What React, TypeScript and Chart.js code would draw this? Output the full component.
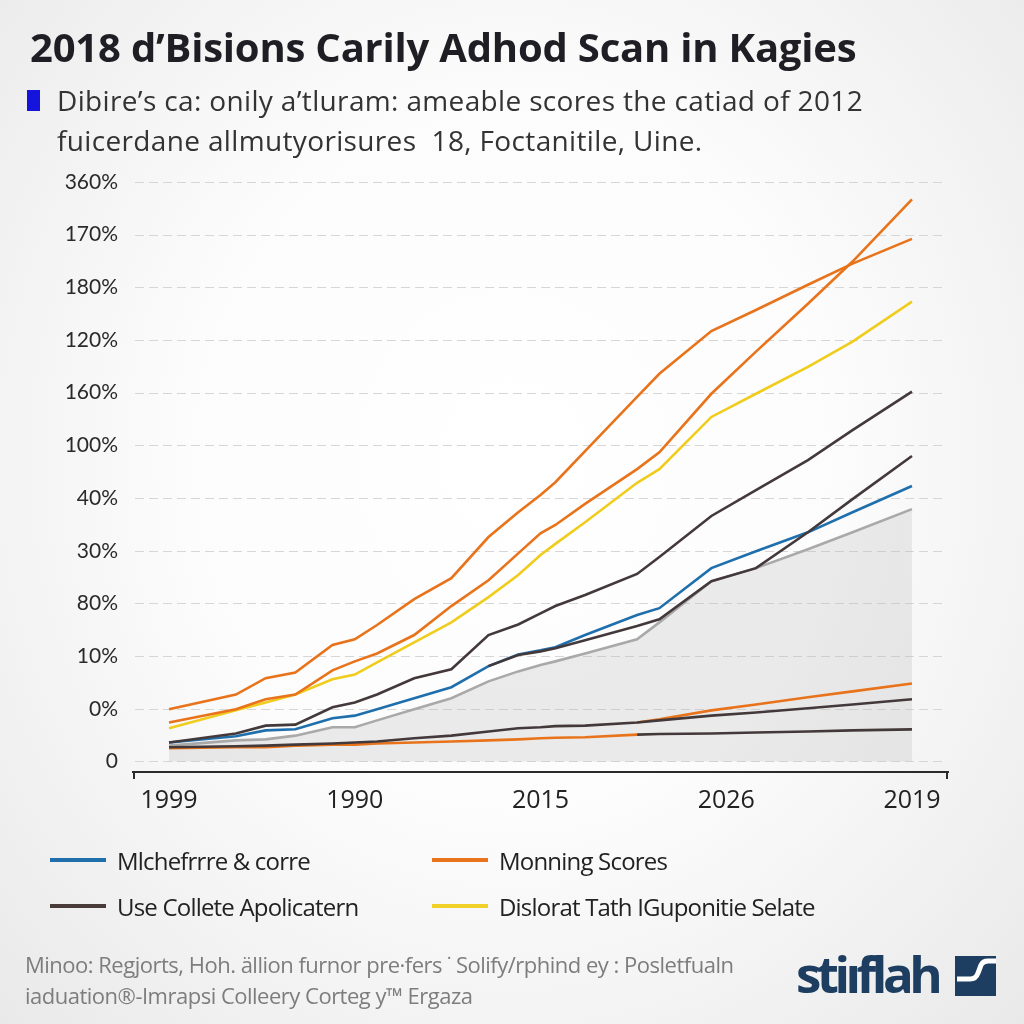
import React, { useEffect, useRef } from "react";
import { Chart, registerables } from "chart.js";

Chart.register(...registerables);

const xPos = [0, 9, 13, 17, 22, 25, 28, 33, 38, 43, 47, 50, 52, 56, 63, 66, 73, 79, 86, 92, 100];
const xTickValues = [0, 25, 50, 75, 100];
const xTickLabels = ["1999", "1990", "2015", "2026", "2019"];
const yTickLabels = ["0", "0%", "10%", "80%", "30%", "40%", "100%", "160%", "120%", "180%", "170%", "360%"];

const orangeA = [0.99, 1.27, 1.58, 1.69, 2.21, 2.32, 2.59, 3.08, 3.48, 4.26, 4.73, 5.06, 5.3, 5.89, 6.92, 7.36, 8.17, 8.57, 9.05, 9.45, 9.92];
const orangeB = [0.74, 0.99, 1.18, 1.27, 1.73, 1.9, 2.05, 2.4, 2.95, 3.44, 3.95, 4.33, 4.49, 4.89, 5.55, 5.87, 6.98, 7.78, 8.69, 9.49, 10.67];
const yellow = [0.63, 0.97, 1.12, 1.27, 1.56, 1.65, 1.88, 2.26, 2.64, 3.12, 3.54, 3.92, 4.13, 4.54, 5.29, 5.55, 6.54, 6.98, 7.49, 7.97, 8.73];
const darkA = [0.36, 0.53, 0.68, 0.7, 1.03, 1.12, 1.27, 1.58, 1.75, 2.4, 2.6, 2.81, 2.95, 3.16, 3.56, 3.88, 4.66, 5.15, 5.72, 6.29, 7.02];
const blue = [0.36, 0.48, 0.59, 0.61, 0.82, 0.87, 0.99, 1.2, 1.41, 1.81, 2.03, 2.11, 2.17, 2.4, 2.78, 2.91, 3.67, 3.99, 4.35, 4.73, 5.23];
const gray = [0.3, 0.4, 0.42, 0.49, 0.65, 0.65, 0.78, 0.99, 1.2, 1.52, 1.71, 1.83, 1.9, 2.05, 2.32, 2.64, 3.42, 3.67, 4.03, 4.35, 4.79];
const darkB = [null, null, null, null, null, null, null, null, null, 1.81, 2.02, 2.09, 2.15, 2.3, 2.57, 2.7, 3.42, 3.67, 4.35, 4.98, 5.8];
const darkC = [0.27, 0.29, 0.3, 0.32, 0.34, 0.36, 0.38, 0.44, 0.49, 0.57, 0.63, 0.65, 0.67, 0.68, 0.74, 0.78, 0.87, 0.93, 1.01, 1.08, 1.18];
const orangeC = [0.25, 0.27, 0.27, 0.3, 0.32, 0.32, 0.34, 0.36, 0.38, 0.4, 0.42, 0.44, 0.45, 0.46, 0.51, null, null, null, null, null, null];
const darkD = [null, null, null, null, null, null, null, null, null, null, null, null, null, null, 0.51, 0.52, 0.53, 0.55, 0.57, 0.59, 0.61];
const orangeD = [null, null, null, null, null, null, null, null, null, null, null, null, null, null, 0.74, 0.8, 0.97, 1.08, 1.22, 1.33, 1.48];

const legendItems = [
  { label: "Mlchefrrre & corre", color: "#1f6fad" },
  { label: "Monning Scores", color: "#e8731a" },
  { label: "Use Collete Apolicatern", color: "#4a3b3b" },
  { label: "Dislorat Tath IGuponitie Selate", color: "#f2d02a" },
];

const ORANGE = "#e8731a";
const YELLOW = "#f0cc1c";
const DARK = "#44393a";
const BLUE = "#1f6fad";
const GRAY = "#a9a9a9";

const pts = (ys: (number | null)[]) => xPos.map((x, i) => ({ x, y: ys[i] }));

const dashedGrid = {
  id: "dashedGrid",
  beforeDatasetsDraw(chart: any) {
    const { ctx, chartArea, scales } = chart;
    const y = scales.y;
    ctx.save();
    ctx.strokeStyle = "#d6d6d6";
    ctx.lineWidth = 1;
    ctx.setLineDash([9, 5]);
    y.ticks.forEach((t: any) => {
      const py = Math.round(y.getPixelForValue(t.value)) + 0.5;
      ctx.beginPath();
      ctx.moveTo(chartArea.left + 2, py);
      ctx.lineTo(chartArea.right - 2, py);
      ctx.stroke();
    });
    ctx.restore();
  },
};

const endTicks = {
  id: "endTicks",
  afterDraw(chart: any) {
    const { ctx, chartArea } = chart;
    ctx.save();
    ctx.strokeStyle = "#2a2a2a";
    ctx.lineWidth = 2;
    ctx.beginPath();
    ctx.moveTo(chartArea.left + 1, chartArea.bottom);
    ctx.lineTo(chartArea.left + 1, chartArea.bottom + 7);
    ctx.moveTo(chartArea.right - 1, chartArea.bottom);
    ctx.lineTo(chartArea.right - 1, chartArea.bottom + 7);
    ctx.stroke();
    ctx.restore();
  },
};

function ChartView() {
  const ref = useRef<HTMLCanvasElement | null>(null);
  useEffect(() => {
    if (!ref.current) return;
    const line = (data: (number | null)[], color: string, extra: any = {}) => ({
      data: pts(data),
      borderColor: color,
      borderWidth: 2.6,
      pointRadius: 0,
      fill: false,
      tension: 0,
      spanGaps: false,
      order: 1,
      ...extra,
    });
    const chart = new Chart(ref.current, {
      type: "line",
      data: {
        datasets: [
          line(orangeA, ORANGE),
          line(orangeB, ORANGE),
          line(yellow, YELLOW),
          line(darkA, DARK),
          line(darkB, DARK),
          line(blue, BLUE),
          line(gray, GRAY, { fill: "origin", backgroundColor: "rgba(185,185,185,0.27)", order: 5 }),
          line(darkC, DARK),
          line(orangeC, ORANGE),
          line(darkD, DARK),
          line(orangeD, ORANGE),
        ] as any,
      },
      options: {
        animation: false,
        responsive: false,
        maintainAspectRatio: false,
        layout: { padding: { left: 0, right: 76, top: 32, bottom: 0 } },
        plugins: { legend: { display: false }, tooltip: { enabled: false } },
        scales: {
          x: {
            type: "linear",
            min: -4.85,
            max: 104.85,
            afterBuildTicks: (axis: any) => {
              axis.ticks = xTickValues.map((v) => ({ value: v }));
            },
            afterFit: (scale: any) => {
              scale.height = 68;
            },
            ticks: {
              callback: (_v: any, i: number) => xTickLabels[i],
              color: "#222",
              font: { family: "'Open Sans'", size: 25 },
              padding: 14,
              maxRotation: 0,
              autoSkip: false,
            },
            grid: { display: false, drawTicks: false },
            border: { display: true, color: "#2a2a2a", width: 2 },
          },
          y: {
            type: "linear",
            min: -0.2,
            max: 11,
            afterBuildTicks: (axis: any) => {
              axis.ticks = yTickLabels.map((_l, i) => ({ value: i }));
            },
            afterFit: (scale: any) => {
              scale.width = 133;
            },
            ticks: {
              callback: (_v: any, i: number) => yTickLabels[i],
              color: "#2a2a2a",
              font: { family: "Lato", size: 21 },
              padding: 15,
              autoSkip: false,
            },
            grid: { display: false, drawTicks: false },
            border: { display: false },
          },
        },
      } as any,
      plugins: [dashedGrid, endTicks],
    });
    return () => chart.destroy();
  }, []);
  return <canvas ref={ref} width={1024} height={690} style={{ position: "absolute", left: 0, top: 150, width: 1024, height: 690 }} />;
}

export default function App() {
  return (
    <div
      style={{
        position: "fixed",
        left: 0,
        top: 0,
        width: 1024,
        height: 1024,
        overflow: "hidden",
        background: "radial-gradient(ellipse at 50% 45%, #ffffff 0%, #fcfcfc 45%, #e9e9e9 100%)",
        fontFamily: "'Open Sans', sans-serif",
      }}
    >
      <div style={{ position: "absolute", left: 30, top: 19, fontSize: 40, fontWeight: 700, color: "#1e1e24", letterSpacing: -0.2, whiteSpace: "nowrap" }}>
        2018 d’Bisions Carily Adhod Scan in Kagies
      </div>
      <div style={{ position: "absolute", left: 27, top: 90, width: 13, height: 21, background: "#1414dc" }} />
      <div style={{ position: "absolute", left: 57, top: 80, fontSize: 28, color: "#333", letterSpacing: 0.35, lineHeight: "40px", whiteSpace: "nowrap" }}>
        <div>Dibire’s ca: onily a’tluram: ameable scores the catiad of 2012</div>
        <div>fuicerdane allmutyorisures&nbsp; 18, Foctanitile, Uine.</div>
      </div>
      <ChartView />
      <div style={{ position: "absolute", left: 50, top: 840, width: 900 }}>
        {legendItems.map((it, i) => (
          <div
            key={i}
            style={{
              position: "absolute",
              left: i % 2 === 0 ? 0 : 382,
              top: (Math.floor(i / 2)) * 46,
              display: "flex",
              alignItems: "center",
              height: 40,
              whiteSpace: "nowrap",
            }}
          >
            <div style={{ width: 56, height: 4, background: it.color, marginRight: 11 }} />
            <div style={{ fontSize: 24, color: "#222", letterSpacing: -0.8 }}>{it.label}</div>
          </div>
        ))}
      </div>
      <div style={{ position: "absolute", left: 25, top: 949, fontSize: 22, color: "#7d7d7d", letterSpacing: -0.5, lineHeight: "31px", whiteSpace: "nowrap" }}>
        <div>Minoo: Regjorts, Hoh. ällion furnor pre·fers ˙ Solify/rphind ey : Posletfualn</div>
        <div>iaduation®-Imrapsi Colleery Corteg y™ Ergaza</div>
      </div>
      <div style={{ position: "absolute", left: 796, top: 938, display: "flex", alignItems: "center" }}>
        <span style={{ fontSize: 51, fontWeight: 700, color: "#1d3e60", letterSpacing: -4.5 }}>stiıflah</span>
        <svg width="41" height="40" viewBox="0 0 41 40" style={{ marginLeft: 17, marginTop: 6 }}>
          <rect x="0" y="0" width="41" height="40" fill="#1d3e60" />
          <path d="M2 23 L15 23 Q21 23 23 17 L26 9 Q28 5 33 5 L41 5" stroke="#ffffff" strokeWidth="5" fill="none" />
        </svg>
      </div>
    </div>
  );
}
